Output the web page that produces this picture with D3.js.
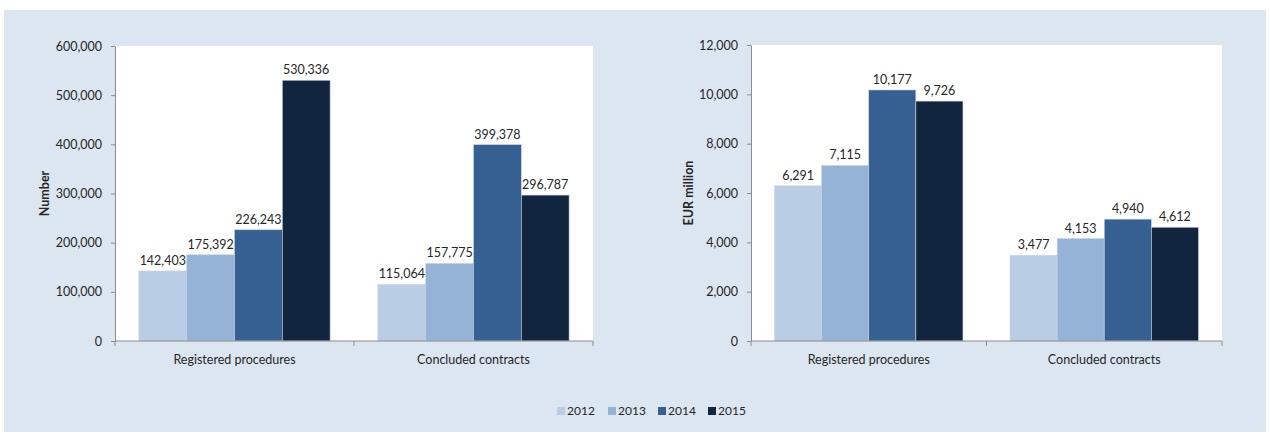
<!DOCTYPE html>
<html>
<head>
<meta charset="utf-8">
<script src="https://cdn.jsdelivr.net/npm/d3@7"></script>
<style>
  html, body { margin: 0; padding: 0; background: #ffffff; }
  svg { display: block; }
  text { font-family: Lato, "Open Sans", sans-serif; fill: #262626; }
</style>
</head>
<body>
<svg id="chart" width="1270" height="436"></svg>
<script>
// Categories, years and values for the two panels
const categories = ["Registered procedures", "Concluded contracts"];
const years = ["2012", "2013", "2014", "2015"];
const colors = ["#b9cde5", "#95b3d7", "#366092", "#12253f"];

// Left panel: number of procedures / contracts
const numberValues = [
  [142403, 175392, 226243, 530336],
  [115064, 157775, 399378, 296787]
];
const numberTicks = [0, 100000, 200000, 300000, 400000, 500000, 600000];

// Right panel: value in EUR million
const eurValues = [
  [6291, 7115, 10177, 9726],
  [3477, 4153, 4940, 4612]
];
const eurTicks = [0, 2000, 4000, 6000, 8000, 10000, 12000];

const svg = d3.select("#chart");
const fmt = d3.format(",");
const FS = 12.5;

// Light blue backdrop
svg.append("rect")
  .attr("x", 4).attr("y", 10)
  .attr("width", 1262).attr("height", 422)
  .attr("fill", "#dce6f1");

function drawPanel(cfg) {
  const g = svg.append("g");
  const x = d3.scaleBand().domain(categories).range([cfg.left, cfg.right]);
  const y = d3.scaleLinear().domain([0, d3.max(cfg.ticks)]).range([cfg.bottom, cfg.top]);
  const inner = x.bandwidth() * 0.1;
  const xs = d3.scaleBand().domain(years).range([inner, x.bandwidth() - inner]);

  // White plot area
  g.append("rect")
    .attr("x", cfg.left).attr("y", cfg.top)
    .attr("width", cfg.right - cfg.left).attr("height", cfg.bottom - cfg.top)
    .attr("fill", "#ffffff");

  // Bars with value labels
  cfg.values.forEach((row, ci) => {
    const grp = g.append("g").attr("transform", `translate(${x(categories[ci])},0)`);
    grp.selectAll("rect").data(row).join("rect")
      .attr("x", (d, i) => xs(years[i]))
      .attr("y", d => y(d))
      .attr("width", xs.bandwidth())
      .attr("height", d => y(0) - y(d))
      .attr("fill", (d, i) => colors[i])
      .attr("stroke", "#c9d3df")
      .attr("stroke-width", 0.6);
    grp.selectAll("text").data(row).join("text")
      .attr("x", (d, i) => xs(years[i]) + xs.bandwidth() / 2)
      .attr("y", d => y(d) - 6)
      .attr("text-anchor", "middle")
      .attr("font-size", FS)
      .text(d => fmt(d));
  });

  // Value axis
  const yAxis = g.append("g")
    .attr("transform", `translate(${cfg.left},0)`)
    .call(d3.axisLeft(y).tickValues(cfg.ticks).tickFormat(fmt).tickSize(4).tickSizeOuter(0));
  yAxis.select(".domain").attr("stroke", "#8c8c8c");
  yAxis.selectAll(".tick line").attr("stroke", "#8c8c8c");
  yAxis.selectAll(".tick text")
    .attr("x", -13)
    .attr("font-size", FS)
    .attr("font-family", "Lato, sans-serif")
    .attr("fill", "#262626");

  // Category axis with tick marks at band boundaries
  g.append("line")
    .attr("x1", cfg.left).attr("x2", cfg.right)
    .attr("y1", y(0)).attr("y2", y(0))
    .attr("stroke", "#8c8c8c");
  const bounds = categories.map(c => x(c)).concat([x(categories[categories.length - 1]) + x.bandwidth()]);
  g.selectAll(".ctick").data(bounds).join("line")
    .attr("x1", d => d).attr("x2", d => d)
    .attr("y1", y(0)).attr("y2", y(0) + 5)
    .attr("stroke", "#8c8c8c");
  g.selectAll(".clabel").data(categories).join("text")
    .attr("x", d => x(d) + x.bandwidth() / 2)
    .attr("y", y(0) + 22.5)
    .attr("text-anchor", "middle")
    .attr("font-size", FS)
    .text(d => d);

  // Axis title
  g.append("text")
    .attr("transform", `translate(${cfg.titleX},${(cfg.top + cfg.bottom) / 2}) rotate(-90)`)
    .attr("text-anchor", "middle")
    .attr("font-size", 12.5)
    .attr("font-weight", "bold")
    .attr("fill", "#000")
    .text(cfg.title);
}

drawPanel({ left: 115, right: 593, top: 46, bottom: 341, values: numberValues, ticks: numberTicks, title: "Number", titleX: 48.5 });
drawPanel({ left: 751, right: 1222, top: 45, bottom: 341, values: eurValues, ticks: eurTicks, title: "EUR million", titleX: 692.5 });

// Legend
const legend = svg.append("g");
const legendX = [557, 608, 658, 708];
years.forEach((yr, i) => {
  legend.append("rect")
    .attr("x", legendX[i]).attr("y", 407)
    .attr("width", 8).attr("height", 8)
    .attr("fill", colors[i]);
  legend.append("text")
    .attr("x", legendX[i] + 10).attr("y", 415)
    .attr("font-size", 12)
    .text(yr);
});
</script>
</body>
</html>
